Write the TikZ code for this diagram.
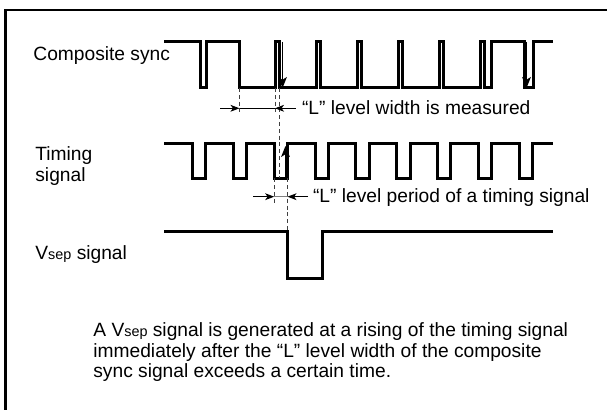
\documentclass[tikz,border=0pt]{standalone}
\usepackage{fontspec}
\setmainfont{Liberation Sans}
\usetikzlibrary{arrows.meta}
\newcommand{\vsep}{V{\fontsize{7.2}{8}\selectfont sep}}

\begin{document}
\begin{tikzpicture}[
  x=0.5pt, y=-0.5pt,
  font=\fontsize{9.6}{10.25}\selectfont,
  wave/.style={line width=1.5pt, line join=miter},
  guide/.style={line width=0.5pt, black!75, dash pattern=on 2pt off 1.4pt},
  dim/.style={line width=0.5pt, -{Stealth[length=4.5pt, width=3.4pt, inset=1.2pt]}},
  edgearrow/.style={line width=0.6pt, -{Stealth[length=5.5pt, width=4.4pt, inset=1.4pt]}},
  lbl/.style={anchor=base west, inner sep=0pt}
]
\useasboundingbox (0,0) rectangle (607,410);
\draw[line width=1pt] (5.5,410) -- (5.5,10) -- (607,10);

% signal names
\node[lbl] (csync) at (33,60.5) {Composite sync};
\node[anchor=north west, inner sep=0pt, align=left] (timing) at (35,146.5) {Timing\\signal};
\node[lbl] (vsepname) at (35,259.5) {\vsep{} signal};

% waveforms
\draw[wave] (164,42) -- (200.5,42) -- (200.5,88) -- (206,88) -- (206,42)
  -- (239.5,42) -- (239.5,88)
  \foreach \r in {275,316,357,398,439,480} { -- (\r,88) -- (\r,42) -- (\r+4.5,42) -- (\r+4.5,88) }
  -- (491.5,88) -- (491.5,42) -- (524,42) -- (524,88) -- (533,88) -- (533,42) -- (553,42);
\draw[wave] (164,144)
  \foreach \k in {0,...,8} { -- ({192.5+40.85*\k},144) -- ({192.5+40.85*\k},178.5)
    -- ({205.8+40.85*\k},178.5) -- ({205.8+40.85*\k},144) }
  -- (553,144);
\draw[wave] (164,231.5) -- (287.5,231.5) -- (287.5,278.5) -- (322.5,278.5) -- (322.5,231.5) -- (553,231.5);

% edges
\coordinate (cfall) at (239.5,88);
\coordinate (crise) at (275,88);
\coordinate (cedge) at (279.5,88);
\coordinate (tfall) at (274.2,178.5);
\coordinate (trise) at (287.5,178.5);
\coordinate (vfall) at (287.5,231.5);

\draw[edgearrow] (282.5,42) -- (282.5,88);
\draw[edgearrow] (526.5,42) -- (526.5,88);
\draw[edgearrow] (285.5,178.5) -- (285.5,146);

% guides
\draw[guide] (cfall) -- ++(0,24);
\draw[guide] (crise) -- ++(0,24);
\draw[guide] (cedge) -- (cedge |- trise);
\draw[guide] (tfall) -- ++(0,25);
\draw[guide] (trise) -- (vfall);

% "L" level width
\node[lbl] (widthtxt) at (301.7,114.5) {“L” level width is measured};
\coordinate (wl) at (239.5,108.3);
\coordinate (wr) at (275,108.3);
\draw[dim] (220,108.3) -- (wl);
\draw[line width=0.5pt] (wl) -- (wr);
\draw[dim] (295.7,108.3) -- (wr);

% "L" level period
\node[lbl] (periodtxt) at (312.7,203) {“L” level period of a timing signal};
\coordinate (pl) at (274.2,196.7);
\coordinate (pr) at (287.5,196.7);
\draw[dim] (253,196.7) -- (pl);
\draw[gray, line width=0.8pt] (pl) -- (pr);
\draw[dim] (308,196.7) -- (pr);

% note
\node[anchor=north west, inner sep=0pt, align=left] (note) at (93,322.3)
  {A \vsep{} signal is generated at a rising of the timing signal\\
   immediately after the “L” level width of the composite\\
   sync signal exceeds a certain time.};
\end{tikzpicture}
\end{document}
